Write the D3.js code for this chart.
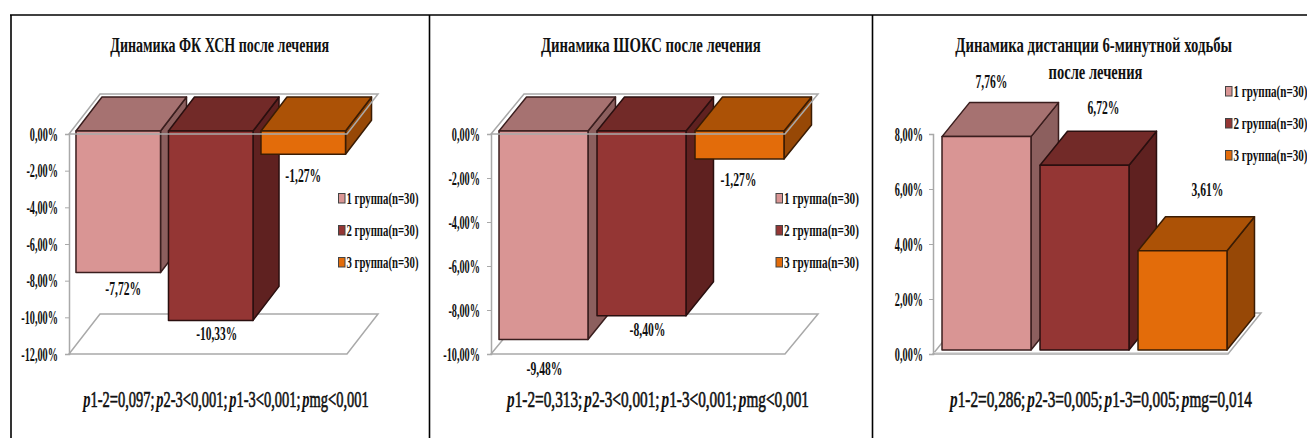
<!DOCTYPE html>
<html lang="ru">
<head>
<meta charset="utf-8">
<title>Динамика показателей после лечения</title>
<script src="https://cdn.jsdelivr.net/npm/d3@7/dist/d3.min.js"></script>
<style>
  html, body { margin: 0; padding: 0; background: #fff; overflow: hidden; }
  svg { display: block; }
  text { font-family: "Liberation Serif", serif; fill: #111; }
</style>
</head>
<body>
<svg id="chart" width="1307" height="438"></svg>
<script>
// Values, in percent
const groups = ["1 группа(n=30)", "2 группа(n=30)", "3 группа(n=30)"];
const fkValues = [-7.72, -10.33, -1.27];
const shoksValues = [-9.48, -8.40, -1.27];
const walkValues = [7.76, 6.72, 3.61];

// Axis ticks
const fkTicks = [0, -2, -4, -6, -8, -10, -12];
const shoksTicks = [0, -2, -4, -6, -8, -10];
const walkTicks = [0, 2, 4, 6, 8];

// Titles and significance notes
const fkTitle = ["Динамика ФК ХСН после лечения"];
const shoksTitle = ["Динамика ШОКС после лечения"];
const walkTitle = ["Динамика дистанции 6-минутной ходьбы", "после лечения"];
const fkNote = ["1-2=0,097;", "2-3<0,001;", "1-3<0,001;", "mg<0,001"];
const shoksNote = ["1-2=0,313;", "2-3<0,001;", "1-3<0,001;", "mg<0,001"];
const walkNote = ["1-2=0,286;", "2-3=0,005;", "1-3=0,005;", "mg=0,014"];

// Face colours of each group's column
const frontColors = ["#d99594", "#943634", "#e36c0a"];
const topColors = ["#a67271", "#722a28", "#ac5206"];
const sideColors = ["#8c5f5e", "#5f2120", "#974806"];
const edgeColors = ["#3a1e1e", "#2a0f0f", "#3a1c04"];
const wallColor = "#a9a9a9";

const svg = d3.select("#chart");

// Comma decimals and an ASCII minus, as in Russian-language tables
const ru = d3.formatLocale({
  decimal: ",", thousands: " ", grouping: [3], currency: ["", ""], minus: "-", percent: "%"
});
const fmt2 = ru.format(".2f");
const pct = v => `${fmt2(v)}%`;

// Squeezes a text horizontally to a given width, keeping its font height
function fit(sel, x, y, width, anchor) {
  const len = sel.node().getComputedTextLength();
  sel.attr("text-anchor", anchor)
     .attr("transform", `translate(${x},${y}) scale(${width / len},1)`);
  return sel;
}

function drawPanel(cfg) {
  const g = svg.append("g");
  const y = d3.scaleLinear().domain(cfg.domain).range(cfg.yRange);
  const x = d3.scaleBand().domain(groups).range(cfg.xRange)
    .paddingInner(cfg.pad).paddingOuter(cfg.pad / 2);
  const [dx, dy] = cfg.depth;
  const lift = cfg.lift;
  const y0 = y(0);
  const bottom = y(cfg.negative ? cfg.domain[0] : 0);
  const axisX = cfg.axisX;
  const span = cfg.planeWidth;

  const quad = (x0, yy, w) => `M${x0},${yy}h${w}l${cfg.wallDx},${-cfg.wallDy}h${-w}Z`;

  // Floor of the plot box
  g.append("path").attr("d", quad(axisX, bottom, span))
    .attr("fill", "#fff").attr("stroke", wallColor).attr("stroke-width", 1.5);
  if (!cfg.negative) {
    g.append("line").attr("x1", axisX).attr("x2", axisX + span)
      .attr("y1", bottom - 1.5).attr("y2", bottom - 1.5)
      .attr("stroke", "#ddd").attr("stroke-width", 1);
  }

  // Value axis
  const axis = d3.axisLeft(y).tickValues(cfg.ticks).tickSize(4).tickFormat(pct);
  const ag = g.append("g").attr("transform", `translate(${axisX},0)`).call(axis);
  ag.select(".domain").attr("stroke", wallColor).attr("stroke-width", 1.5);
  ag.selectAll(".tick line").attr("stroke", wallColor).attr("stroke-width", 1);
  ag.selectAll(".tick text")
    .attr("x", null).attr("dy", null)
    .attr("font-size", 19).attr("font-weight", "bold").attr("font-family", "Liberation Serif")
    .attr("text-anchor", "end")
    .attr("transform", `translate(${cfg.tickRight - axisX},6) scale(0.54,1)`);

  // Columns: the front face hangs from the baseline, top and side go back in depth
  cfg.values.forEach((v, i) => {
    const bx = x(groups[i]);
    const w = x.bandwidth();
    const base = y0 - lift;
    const end = y(v) - lift;
    const top = Math.min(base, end);
    const low = Math.max(base, end);
    const col = g.append("g").attr("stroke", edgeColors[i]).attr("stroke-width", 1.5)
      .attr("stroke-linejoin", "round");
    col.append("path").attr("fill", sideColors[i])
      .attr("d", `M${bx + w},${top}l${dx},${-dy}V${low - dy}l${-dx},${dy}Z`);
    col.append("path").attr("fill", topColors[i])
      .attr("d", `M${bx},${top}l${dx},${-dy}h${w}l${-dx},${dy}Z`);
    col.append("rect").attr("fill", frontColors[i])
      .attr("x", bx).attr("y", top).attr("width", w).attr("height", low - top);

    const [nx, ny] = cfg.labelNudge[i];
    const anchorY = cfg.negative ? low : top;
    const t = g.append("text").text(pct(v))
      .attr("font-size", 19).attr("font-weight", "bold");
    fit(t, bx + w / 2 + nx, anchorY + ny, cfg.labelWidth(v), "middle");
  });

  // The zero plane is drawn over the columns when they hang below it
  if (cfg.negative) {
    g.append("path").attr("d", quad(axisX, y0, span))
      .attr("fill", "none").attr("stroke", wallColor).attr("stroke-width", 1.5);
  }

  // Title
  cfg.title.forEach((line, i) => {
    const t = g.append("text").text(line)
      .attr("font-size", 21).attr("font-weight", "bold");
    fit(t, cfg.titleX[i], 51.5 + 27.5 * i, cfg.titleW[i], "middle");
  });

  // Significance note with italic p
  const note = g.append("text").attr("font-size", 23).attr("font-weight", "bold");
  cfg.note.forEach((part, i) => {
    note.append("tspan").attr("font-style", "italic").attr("dx", i ? 3 : 0).text("p");
    note.append("tspan").attr("font-weight", "normal").attr("stroke", "#111").attr("stroke-width", 0.65).text(part);
  });
  fit(note, cfg.noteX, 407, cfg.noteW, "middle");

  // Legend
  groups.forEach((name, i) => {
    const cy = cfg.legendY + i * 32;
    g.append("rect").attr("x", cfg.legendX).attr("y", cy - 5).attr("width", 6.5).attr("height", 9.5)
      .attr("fill", frontColors[i]).attr("stroke", "#444").attr("stroke-width", 1);
    const t = g.append("text").text(name).attr("font-size", 17).attr("font-weight", "bold");
    fit(t, cfg.legendX + 8, cy + 5.5, cfg.legendW, "start");
  });
}

const labelW = v => (Math.abs(v) >= 10 ? 41 : v < 0 ? 36 : 32);

drawPanel({
  values: fkValues, ticks: fkTicks, domain: [-12, 0], yRange: [354, 134], negative: true,
  xRange: [72, 349.5], pad: 0.086, depth: [26, 34], lift: 3,
  axisX: 69, tickRight: 58, planeWidth: 278, wallDx: 31, wallDy: 40,
  labelNudge: [[5, 22.5], [6, 19.5], [0, 27.5]], labelWidth: labelW,
  title: fkTitle, titleX: [219.7], titleW: [219],
  note: fkNote, noteX: 226, noteW: 280,
  legendX: 338.5, legendY: 198.5, legendW: 72
});

drawPanel({
  values: shoksValues, ticks: shoksTicks, domain: [-10, 0], yRange: [354, 134], negative: true,
  xRange: [494.5, 788.5], pad: 0.092, depth: [27.5, 34], lift: 3,
  axisX: 491, tickRight: 480, planeWidth: 294, wallDx: 33, wallDy: 40,
  labelNudge: [[1, 35.5], [6, 20.5], [-1, 27.5]], labelWidth: labelW,
  title: shoksTitle, titleX: [650.8], titleW: [220],
  note: shoksNote, noteX: 658, noteW: 296,
  legendX: 776, legendY: 198.5, legendW: 75
});

drawPanel({
  values: walkValues, ticks: walkTicks, domain: [0, 8], yRange: [354, 134], negative: false,
  xRange: [937.5, 1231.5], pad: 0.092, depth: [27.5, 34], lift: 4,
  axisX: 933, tickRight: 923, planeWidth: 295, wallDx: 33, wallDy: 41,
  labelNudge: [[5, -48.5], [19, -51.5], [25, -54.5]], labelWidth: labelW,
  title: walkTitle, titleX: [1093.7, 1095.5], titleW: [277, 94],
  note: walkNote, noteX: 1101, noteW: 296,
  legendX: 1225.5, legendY: 91.5, legendW: 74
});

// Frame of the three-cell table
const frame = svg.append("g").attr("stroke", "#000").attr("stroke-width", 1.6);
frame.append("line").attr("x1", 10).attr("x2", 1307).attr("y1", 15).attr("y2", 15);
[11, 429.5, 872.5].forEach(fx =>
  frame.append("line").attr("x1", fx).attr("x2", fx).attr("y1", 15).attr("y2", 438));
</script>
</body>
</html>
